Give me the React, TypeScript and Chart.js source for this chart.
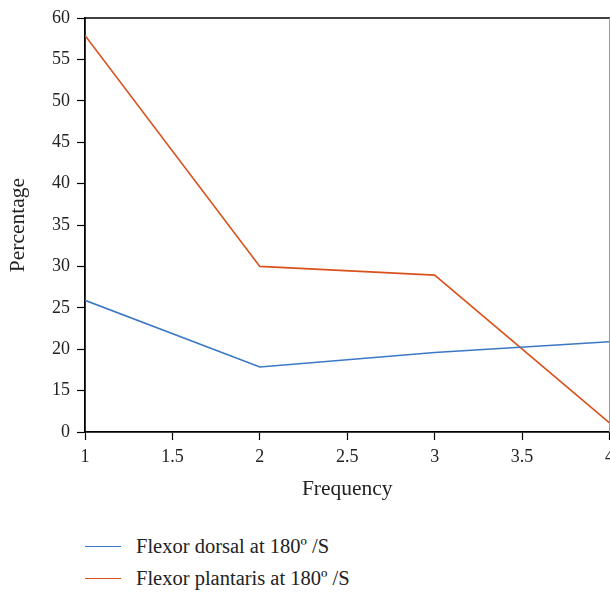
import React, { useEffect, useRef } from "react";
import { Chart, registerables } from "chart.js";

Chart.register(...registerables);

// x positions (Frequency)
const frequency = [1, 2, 3, 4];
// Series values (Percentage)
const dorsal = [25.9, 17.85, 19.6, 20.9];
const plantaris = [57.9, 30, 28.95, 3.3];
// y tick values on the (broken) axis: 0 occupies the slot below 15
const yTickValues = [0, 15, 20, 25, 30, 35, 40, 45, 50, 55, 60];
const xTickValues = [1, 1.5, 2, 2.5, 3, 3.5, 4];

const seriesNames = ["Flexor dorsal at 180º /S", "Flexor plantaris at 180º /S"];
const seriesColors = ["#3a78c4", "#d9521c"];

// The reference axis is broken: the 0–15 span is squeezed into one tick interval.
const toAxis = (v: number) => (v >= 15 ? v : 10 + v / 3);
const fromAxis = (a: number) => (a >= 15 ? a : (a - 10) * 3);

const FONT = "'Liberation Serif', 'Times New Roman', serif";

export default function App() {
  const ref = useRef<HTMLCanvasElement | null>(null);

  useEffect(() => {
    if (!ref.current) return;
    const frame = {
      id: "frame",
      afterDraw(chart: any) {
        const { ctx, chartArea } = chart;
        ctx.save();
        ctx.strokeStyle = "#000";
        ctx.lineWidth = 1.5;
        ctx.beginPath();
        ctx.moveTo(chartArea.left, chartArea.top);
        ctx.lineTo(chartArea.right + 5, chartArea.top);
        ctx.stroke();
        ctx.strokeStyle = "#999";
        ctx.lineWidth = 1;
        ctx.beginPath();
        ctx.moveTo(chartArea.right, chartArea.top);
        ctx.lineTo(chartArea.right, chartArea.bottom);
        ctx.stroke();
        ctx.restore();
      },
    };
    const chart = new Chart(ref.current, {
      type: "line",
      data: {
        datasets: [
          {
            label: seriesNames[0],
            data: frequency.map((x, i) => ({ x, y: toAxis(dorsal[i]) })),
            borderColor: seriesColors[0],
            backgroundColor: seriesColors[0],
            borderWidth: 1.6,
            pointRadius: 0,
            tension: 0,
          },
          {
            label: seriesNames[1],
            data: frequency.map((x, i) => ({ x, y: toAxis(plantaris[i]) })),
            borderColor: seriesColors[1],
            backgroundColor: seriesColors[1],
            borderWidth: 1.6,
            pointRadius: 0,
            tension: 0,
          },
        ],
      },
      options: {
        animation: false,
        responsive: false,
        maintainAspectRatio: false,
        layout: { padding: { top: 18, right: 30.5, left: 0, bottom: 0 } },
        plugins: { legend: { display: false }, tooltip: { enabled: false } },
        scales: {
          x: {
            type: "linear",
            min: 1,
            max: 4,
            afterBuildTicks: (s: any) => {
              s.ticks = xTickValues.map((v) => ({ value: v }));
            },
            afterFit: (s: any) => {
              s.height = 78;
            },
            ticks: {
              color: "#222",
              font: { family: FONT, size: 18 },
              padding: 6,
              maxRotation: 0,
              autoSkip: false,
              callback: (v: any) => String(Number(v)),
            },
            grid: {
              drawOnChartArea: false,
              drawTicks: true,
              tickLength: 8,
              tickColor: "#000",
              tickWidth: 1.2,
            },
            border: { display: true, color: "#000", width: 1.8 },
            title: {
              display: true,
              text: "Frequency",
              color: "#222",
              font: { family: FONT, size: 21.5 },
              padding: { top: 0, bottom: 8 },
            },
          },
          y: {
            type: "linear",
            min: 10,
            max: 60,
            afterBuildTicks: (s: any) => {
              s.ticks = yTickValues.map((v) => ({ value: toAxis(v) }));
            },
            afterFit: (s: any) => {
              s.width = 85;
            },
            ticks: {
              color: "#222",
              font: { family: FONT, size: 18 },
              padding: 7,
              autoSkip: false,
              callback: (v: any) => String(Math.round(fromAxis(Number(v)))),
            },
            grid: {
              drawOnChartArea: false,
              drawTicks: true,
              tickLength: 8,
              tickColor: "#000",
              tickWidth: 1.2,
            },
            border: { display: true, color: "#000", width: 1.8 },
            title: {
              display: true,
              text: "Percentage",
              color: "#222",
              font: { family: FONT, size: 21.5 },
              padding: { top: 5, bottom: 0 },
            },
          },
        },
      },
      plugins: [frame],
    } as any);
    return () => chart.destroy();
  }, []);

  const legendRow = (i: number, top: number) => (
    <div
      key={i}
      style={{
        position: "absolute",
        left: 85,
        top: top - 14,
        height: 28,
        display: "flex",
        alignItems: "center",
        fontFamily: FONT,
        fontSize: 20.5,
        color: "#222",
        whiteSpace: "nowrap",
      }}
    >
      <span
        style={{
          display: "inline-block",
          width: 36,
          height: 0,
          borderTop: `1.6px solid ${seriesColors[i]}`,
          marginRight: 15,
        }}
      />
      <span>{seriesNames[i]}</span>
    </div>
  );

  return (
    <div
      style={{
        position: "fixed",
        left: 0,
        top: 0,
        width: 610,
        height: 593,
        overflow: "hidden",
        background: "#fff",
      }}
    >
      <canvas ref={ref} width={640} height={510} style={{ position: "absolute", left: 0, top: 0 }} />
      {legendRow(0, 546)}
      {legendRow(1, 578)}
    </div>
  );
}
